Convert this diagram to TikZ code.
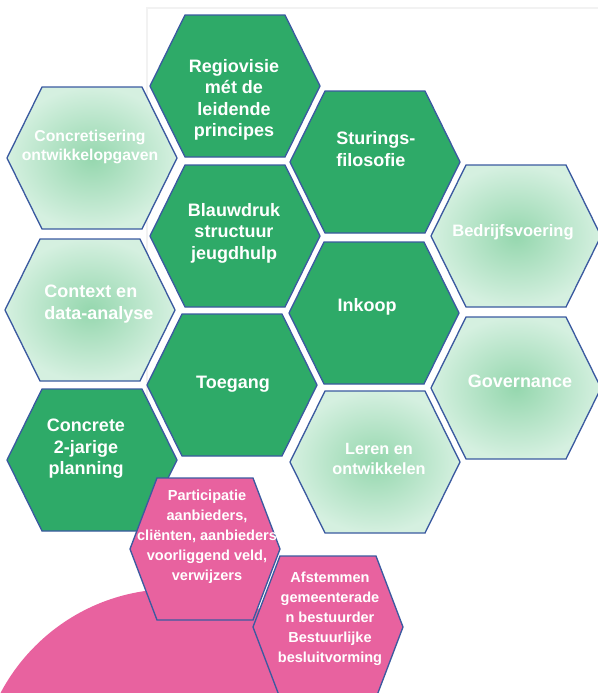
\documentclass[tikz,border=0pt]{standalone}
\usepackage{fontspec}
\setmainfont{Liberation Sans}
\usepackage{tikz}
\usetikzlibrary{calc}

\definecolor{hexgreen}{HTML}{2EAA68}
\definecolor{hexlight}{HTML}{D5F0E0}
\definecolor{hexglow}{HTML}{95D7AE}
\definecolor{hexpink}{HTML}{E8629F}
\definecolor{hexline}{HTML}{3B5AA0}

\tikzset{
  darkhex/.style={fill=hexgreen, draw=hexline, line width=1pt},
  lighthex/.style={inner color=hexglow, outer color=hexlight, draw=hexline, line width=1pt},
  pinkhex/.style={fill=hexpink, draw=hexline, line width=1pt},
  txt/.style={text=white, align=center, inner sep=0pt},
  bigtxt/.style={txt, font=\fontsize{13.5}{16.1}\selectfont\bfseries},
  smalltxt/.style={txt, font=\fontsize{10.9}{15}\selectfont\bfseries},
}

% hexagon: style, name, x, y, half width, half top edge
\newcommand{\hexcell}[6]{%
  \coordinate (#2) at (#3,#4);
  \path[#1] ($(#2)+(-#5,0)$) -- ($(#2)+(-#6,-71)$) -- ($(#2)+(#6,-71)$)
    -- ($(#2)+(#5,0)$) -- ($(#2)+(#6,71)$) -- ($(#2)+(-#6,71)$) -- cycle;
}

\begin{document}
\begin{tikzpicture}[x=0.75pt, y=-0.75pt]
  \useasboundingbox (0,0) rectangle (598,693);
  \clip (0,0) rectangle (598,693);

  % faint slide edge
  \draw[black!5, line width=1pt] (147,693) -- (147,8) -- (598,8);

  % pink disc
  \coordinate (disc) at (173,784);
  \fill[hexpink] (disc) circle (195);

  % honeycomb
  \hexcell{darkhex}{regio}{235}{86}{85}{50}
  \hexcell{lighthex}{concr}{92}{158}{85}{50}
  \hexcell{darkhex}{sturing}{375}{162}{85}{50}
  \hexcell{darkhex}{blauw}{235}{236}{85}{50}
  \hexcell{lighthex}{bedrijf}{516}{236}{85}{50}
  \hexcell{lighthex}{context}{90}{310}{85}{50}
  \hexcell{darkhex}{inkoop}{374}{313}{85}{50}
  \hexcell{darkhex}{toegang}{232}{385}{85}{50}
  \hexcell{lighthex}{govern}{516}{388}{85}{50}
  \hexcell{darkhex}{concrete}{92}{460}{85}{50}
  \hexcell{lighthex}{leren}{375}{462}{85}{50}
  \hexcell{pinkhex}{partic}{205}{549}{75}{48}
  \hexcell{pinkhex}{afstem}{328}{627}{75}{48}

  % labels
  \node[bigtxt] (regiotxt) at (234,100) {Regiovisie\\mét de\\leidende\\principes};
  \node[txt, font=\fontsize{11.8}{14.5}\selectfont\bfseries] (concrtxt) at (90,147) {Concretisering\\ontwikkelopgaven};
  \node[bigtxt, align=left, anchor=west] (sturingtxt) at (336,149) {Sturings-\\filosofie};
  \node[bigtxt] (blauwtxt) at (234,233) {Blauwdruk\\structuur\\jeugdhulp};
  \node[txt, font=\fontsize{12.4}{15}\selectfont\bfseries] (bedrijftxt) at (513,232) {Bedrijfsvoering};
  \node[bigtxt, align=left, anchor=west] (contexttxt) at (44,304) {Context en\\data-analyse};
  \node[bigtxt] (inkooptxt) at (367,307) {Inkoop};
  \node[bigtxt] (toegangtxt) at (233,384) {Toegang};
  \node[bigtxt] (governtxt) at (520,381) {Governance};
  \node[bigtxt] (concretetxt) at (86,449) {Concrete\\2-jarige\\planning};
  \node[txt, font=\fontsize{12.2}{15.5}\selectfont\bfseries] (lerentxt) at (379,459) {Leren en\\ontwikkelen};
  \node[smalltxt] (partictxt) at (207,537) {Participatie\\aanbieders,\\cliënten, aanbieders\\voorliggend veld,\\verwijzers};
  \node[smalltxt] (afstemtxt) at (330,619) {Afstemmen\\gemeenterade\\n bestuurder\\Bestuurlijke\\besluitvorming};
\end{tikzpicture}
\end{document}
